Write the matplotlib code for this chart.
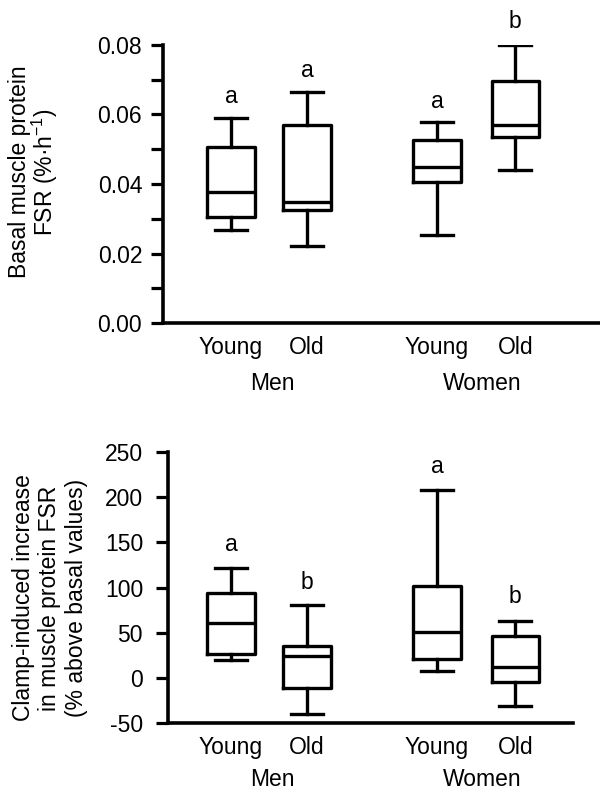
import matplotlib
matplotlib.use('Agg')
import matplotlib.pyplot as plt
from matplotlib.ticker import MultipleLocator, FormatStrFormatter
import matplotlib.transforms as mtransforms

plt.rcParams['font.family'] = ['Liberation Sans', 'DejaVu Sans']
plt.rcParams['mathtext.default'] = 'regular'
plt.rcParams['axes.unicode_minus'] = False

#-----------------------------------------------------------------------------
# data: whisker low, Q1, median, Q3, whisker high

groups = ['Young', 'Old', 'Young', 'Old']
sexes = ['Men', 'Women']

basal_lo = [0.0269, 0.0223, 0.0254, 0.0440]
basal_q1 = [0.0304, 0.0324, 0.0406, 0.0536]
basal_med = [0.0377, 0.0349, 0.0449, 0.0570]
basal_q3 = [0.0505, 0.0570, 0.0527, 0.0697]
basal_hi = [0.0589, 0.0665, 0.0578, 0.0800]
basal_letters = ['a', 'a', 'a', 'b']
basal_letter_y = [0.0633, 0.0708, 0.0619, 0.0848]

clamp_lo = [20.1, -39.7, 7.6, -31.5]
clamp_q1 = [26.0, -10.9, 21.2, -4.6]
clamp_med = [60.7, 23.8, 50.7, 12.0]
clamp_q3 = [93.9, 34.9, 101.7, 46.0]
clamp_hi = [121.6, 80.3, 207.6, 63.0]
clamp_letters = ['a', 'b', 'a', 'b']
clamp_letter_y = [141, 99, 227, 83]

#-----------------------------------------------------------------------------

pos = [1, 2, 3.71, 4.74]
sex_pos = [1.55, 4.30]
fs = 16.5
lw = 2.4

def stats(lo, q1, med, q3, hi):
    return [dict(whislo=lo[i], q1=q1[i], med=med[i], q3=q3[i], whishi=hi[i])
            for i in range(len(lo))]

def draw(ax, st, letters, letter_y, ypad, sex_off):
    ax.bxp(st, positions=pos, widths=0.62, capwidths=0.42, showfliers=False,
           boxprops=dict(color='black', linewidth=lw),
           medianprops=dict(color='black', linewidth=lw),
           whiskerprops=dict(color='black', linewidth=lw),
           capprops=dict(color='black', linewidth=lw))
    for x, t, y in zip(pos, letters, letter_y):
        ax.text(x, y, t, ha='center', va='baseline', fontsize=fs, clip_on=False)
    for s in ['top', 'right']:
        ax.spines[s].set_visible(False)
    ax.spines['left'].set_linewidth(2.6)
    ax.spines['bottom'].set_linewidth(2.6)
    ax.tick_params(axis='y', which='both', length=8.5, width=2.3, labelsize=fs, pad=ypad)
    ax.tick_params(axis='x', length=0, labelsize=fs, pad=9)
    ax.set_xticks(pos)
    ax.set_xticklabels(groups)
    trans = mtransforms.blended_transform_factory(ax.transData, ax.transAxes)
    for x, s in zip(sex_pos, sexes):
        ax.annotate(s, xy=(x, 0), xycoords=trans, xytext=(0, sex_off),
                    textcoords='offset points', ha='center', va='top', fontsize=fs)

fig = plt.figure(figsize=(6, 8), dpi=100)
ax = fig.add_axes([0.2717, 0.596, 0.7283, 0.348])
ax2 = fig.add_axes([0.28, 0.096, 0.675, 0.339])

draw(ax, stats(basal_lo, basal_q1, basal_med, basal_q3, basal_hi),
     basal_letters, basal_letter_y, 6.5, -35)
ax.set_xlim(0.105, 5.855)
ax.set_ylim(0, 0.08)
ax.yaxis.set_major_locator(MultipleLocator(0.02))
ax.yaxis.set_minor_locator(MultipleLocator(0.01))
ax.yaxis.set_major_formatter(FormatStrFormatter('%.2f'))

draw(ax2, stats(clamp_lo, clamp_q1, clamp_med, clamp_q3, clamp_hi),
     clamp_letters, clamp_letter_y, 9.5, -32)
ax2.set_xlim(0.171, 5.5)
ax2.set_ylim(-50, 250)
ax2.yaxis.set_major_locator(MultipleLocator(50))

# y labels placed as figure text so the multi-line blocks sit where they do in the original
fig.text(34 / 600, 1 - 172 / 800, 'Basal muscle protein\nFSR (%·h$^{-1}$)',
         rotation=90, ha='center', va='center', fontsize=fs, linespacing=0.95,
         multialignment='center')
fig.text(50 / 600, 1 - 598 / 800,
         'Clamp-induced increase\nin muscle protein FSR\n(% above basal values)',
         rotation=90, ha='center', va='center', fontsize=fs, linespacing=1.2,
         multialignment='center')

fig.savefig('out.png', dpi=100)
